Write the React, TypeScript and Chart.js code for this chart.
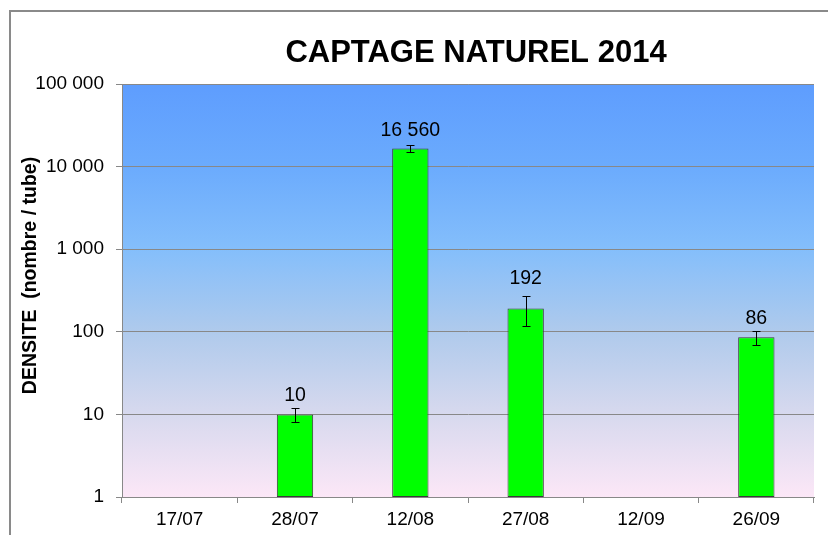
import React, { useEffect, useRef } from "react";
import { Chart, registerables } from "chart.js";

Chart.register(...registerables);

const categories = ["17/07", "28/07", "12/08", "27/08", "12/09", "26/09"];
const densite: (number | null)[] = [null, 10, 16560, 192, null, 86];
const erreurs: (number | null)[] = [null, 2, 1500, 76, null, 17];
const yTicks = [1, 10, 100, 1000, 10000, 100000];
const titre = "CAPTAGE NATUREL 2014";
const titreY = "DENSITE  (nombre / tube)";

const FONT = '"Liberation Sans", Arial, sans-serif';

const fmt = (v: number) => String(Math.round(v)).replace(/\B(?=(\d{3})+(?!\d))/g, " ");

const decorPlugin = {
  id: "decor",
  beforeDraw(chart: any) {
    const { ctx, chartArea } = chart;
    ctx.save();
    ctx.fillStyle = "#ffffff";
    ctx.fillRect(0, 0, chart.width, chart.height);
    ctx.strokeStyle = "#8a8a8a";
    ctx.lineWidth = 2;
    ctx.strokeRect(10, 11, chart.width + 50, chart.height + 50);
    const g = ctx.createLinearGradient(0, chartArea.top, 0, chartArea.bottom);
    g.addColorStop(0, "#5E9DFE");
    g.addColorStop(0.2, "#6BABFD");
    g.addColorStop(0.4, "#84BEFB");
    g.addColorStop(0.6, "#AFCAEC");
    g.addColorStop(0.8, "#D7D9EE");
    g.addColorStop(1, "#FCE7F7");
    ctx.fillStyle = g;
    ctx.fillRect(chartArea.left, chartArea.top, chartArea.right - chartArea.left, chartArea.bottom - chartArea.top);
    ctx.restore();
  },
  afterDatasetsDraw(chart: any) {
    const { ctx } = chart;
    const yScale = chart.scales.y;
    const meta = chart.getDatasetMeta(0);
    ctx.save();
    ctx.strokeStyle = "#000000";
    ctx.lineWidth = 1;
    ctx.fillStyle = "#000000";
    ctx.font = `19.5px ${FONT}`;
    ctx.textAlign = "center";
    ctx.textBaseline = "alphabetic";
    densite.forEach((v, i) => {
      if (v == null) return;
      const el = meta.data[i];
      const x = Math.round(el.x) + 0.5;
      const e = erreurs[i] || 0;
      const yT = Math.round(yScale.getPixelForValue(v + e)) + 0.5;
      const yB = Math.round(yScale.getPixelForValue(v - e)) + 0.5;
      ctx.beginPath();
      ctx.moveTo(x, yT);
      ctx.lineTo(x, yB);
      ctx.moveTo(x - 4, yT);
      ctx.lineTo(x + 4, yT);
      ctx.moveTo(x - 4, yB);
      ctx.lineTo(x + 4, yB);
      ctx.stroke();
      const barTop = el.y;
      const base = yT < barTop - 10 ? yT - 13 : barTop - 13;
      ctx.fillText(fmt(v), el.x, base);
    });
    ctx.restore();
  },
  afterDraw(chart: any) {
    const { ctx, chartArea } = chart;
    ctx.save();
    ctx.fillStyle = "#000000";
    ctx.font = `bold 31px ${FONT}`;
    ctx.textAlign = "center";
    ctx.textBaseline = "alphabetic";
    ctx.fillText(titre, (chartArea.left + chartArea.right) / 2 + 8, 62);
    ctx.translate(31, (chartArea.top + chartArea.bottom) / 2 - 15);
    ctx.rotate(-Math.PI / 2);
    ctx.font = `bold 19.5px ${FONT}`;
    ctx.textBaseline = "middle";
    ctx.fillText(titreY, 0, 0);
    ctx.restore();
  },
};

export default function App() {
  const ref = useRef<HTMLCanvasElement>(null);
  useEffect(() => {
    if (!ref.current) return;
    const chart = new Chart(ref.current, {
      type: "bar",
      data: {
        labels: categories,
        datasets: [
          {
            data: densite as any,
            backgroundColor: "#00FF00",
            borderColor: "#3a3a3a",
            borderWidth: 1,
            borderSkipped: false,
            categoryPercentage: 1,
            barPercentage: 0.315,
          },
        ],
      },
      options: {
        animation: false,
        responsive: false,
        maintainAspectRatio: false,
        layout: { padding: { top: 84, right: 14, left: 0, bottom: 0 } },
        plugins: {
          legend: { display: false },
          title: { display: false },
          tooltip: { enabled: false },
        },
        scales: {
          x: {
            type: "category",
            offset: true,
            grid: {
              offset: true,
              drawOnChartArea: false,
              drawTicks: true,
              tickLength: 6,
              color: "#888888",
            },
            border: { display: true, color: "#888888" },
            ticks: { font: { family: FONT, size: 19 }, color: "#000000", padding: 5, maxRotation: 0 },
            afterFit: (s: any) => {
              s.height = 38;
            },
          },
          y: {
            type: "logarithmic",
            min: 1,
            max: 100000,
            afterBuildTicks: (s: any) => {
              s.ticks = yTicks.map((v) => ({ value: v }));
            },
            grid: { color: "#888888", tickLength: 6, drawTicks: true },
            border: { display: true, color: "#888888" },
            ticks: {
              font: { family: FONT, size: 19 },
              color: "#000000",
              padding: 12,
              callback: (v: any) => fmt(Number(v)),
            },
            afterFit: (s: any) => {
              s.width = 122;
            },
          },
        },
      },
      plugins: [decorPlugin],
    });
    return () => chart.destroy();
  }, []);
  return (
    <div style={{ position: "fixed", left: 0, top: 0, width: 828, height: 535, background: "#fff" }}>
      <canvas ref={ref} width={828} height={535} style={{ display: "block" }} />
    </div>
  );
}
